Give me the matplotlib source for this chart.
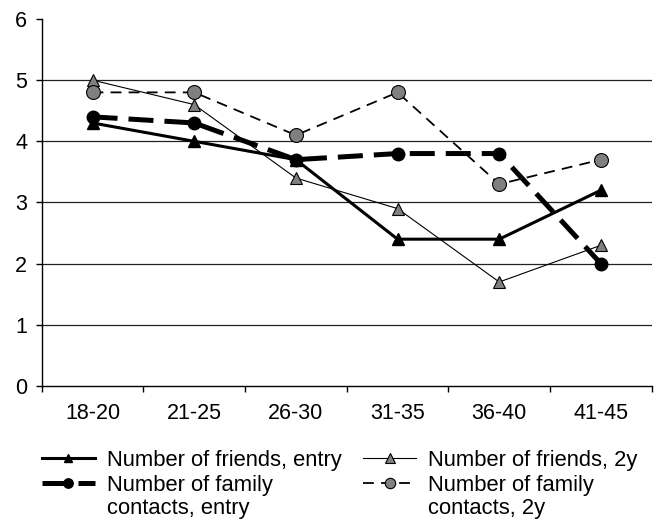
import numpy as np
import matplotlib.pyplot as plt

plt.rcParams['font.family'] = ['Liberation Sans', 'DejaVu Sans']

# age groups and series values
age_groups = ["18-20", "21-25", "26-30", "31-35", "36-40", "41-45"]
friends_entry = [4.3, 4.0, 3.7, 2.4, 2.4, 3.2]
friends_2y = [5.0, 4.6, 3.4, 2.9, 1.7, 2.3]
family_entry = [4.4, 4.3, 3.7, 3.8, 3.8, 2.0]
family_2y = [4.8, 4.8, 4.1, 4.8, 3.3, 3.7]

fig = plt.figure(figsize=(6.57, 5.23), dpi=100)
ax = fig.add_axes([0.0635, 0.262, 0.9285, 0.7017])

x = np.arange(len(age_groups))

# gridlines
for v in range(1, 6):
    ax.axhline(v, color='#222222', linewidth=0.9, zorder=0)

l1, = ax.plot(x, friends_entry, color='black', linewidth=2.2, marker='^', markersize=8,
              markerfacecolor='black', markeredgecolor='black',
              label="Number of friends, entry", zorder=3)
l2, = ax.plot(x, friends_2y, color='black', linewidth=0.8, marker='^', markersize=9,
              markerfacecolor='#808080', markeredgecolor='black', markeredgewidth=0.8,
              label="Number of friends, 2y", zorder=3)
l3, = ax.plot(x, family_entry, color='black', linewidth=3.6, dashes=(5, 2.2), marker='o', markersize=9,
              markerfacecolor='black', markeredgecolor='black',
              label="Number of family", zorder=4)
l4, = ax.plot(x, family_2y, color='black', linewidth=1.3, dashes=(6, 4), marker='o', markersize=10,
              markerfacecolor='#808080', markeredgecolor='black', markeredgewidth=0.8,
              label="Number of family", zorder=4)

ax.set_xlim(-0.5, len(age_groups) - 0.5)
ax.set_ylim(0, 6)
ax.set_yticks(range(0, 7))
ax.set_xticks(x)
ax.set_xticklabels(age_groups)
ax.set_xticks(np.arange(-0.5, len(age_groups)), minor=True)
ax.tick_params(axis='x', which='major', length=0, pad=12, labelsize=15.5)
ax.tick_params(axis='x', which='minor', length=4.5, width=1)
ax.tick_params(axis='y', length=4.5, width=1, pad=6, labelsize=15.5)

for s in ['top', 'right']:
    ax.spines[s].set_visible(False)
ax.spines['left'].set_linewidth(1)
ax.spines['bottom'].set_linewidth(1)

# legend: column-major order so rows read friends / family
fs = 15.8
leg = fig.legend([l1, l3, l2, l4],
                 ["Number of friends, entry", "Number of family",
                  "Number of friends, 2y", "Number of family"],
                 loc='upper left', bbox_to_anchor=(0.0505, 0.157), ncol=2, frameon=False,
                 fontsize=fs, handlelength=2.4, columnspacing=1.0, labelspacing=0.2,
                 handletextpad=0.55, markerscale=0.75, borderaxespad=0)

# second lines of the two-line labels
fig.canvas.draw()
r = fig.canvas.get_renderer()
second = {1: "contacts, entry", 3: "contacts, 2y"}
for i, t in enumerate(leg.get_texts()):
    if i in second:
        bb = t.get_window_extent(r)
        fx, fy = fig.transFigure.inverted().transform((bb.x0, bb.y0 - 2))
        fig.text(fx, fy, second[i], fontsize=fs, va='top', ha='left')

fig.savefig("out.png", dpi=100)
